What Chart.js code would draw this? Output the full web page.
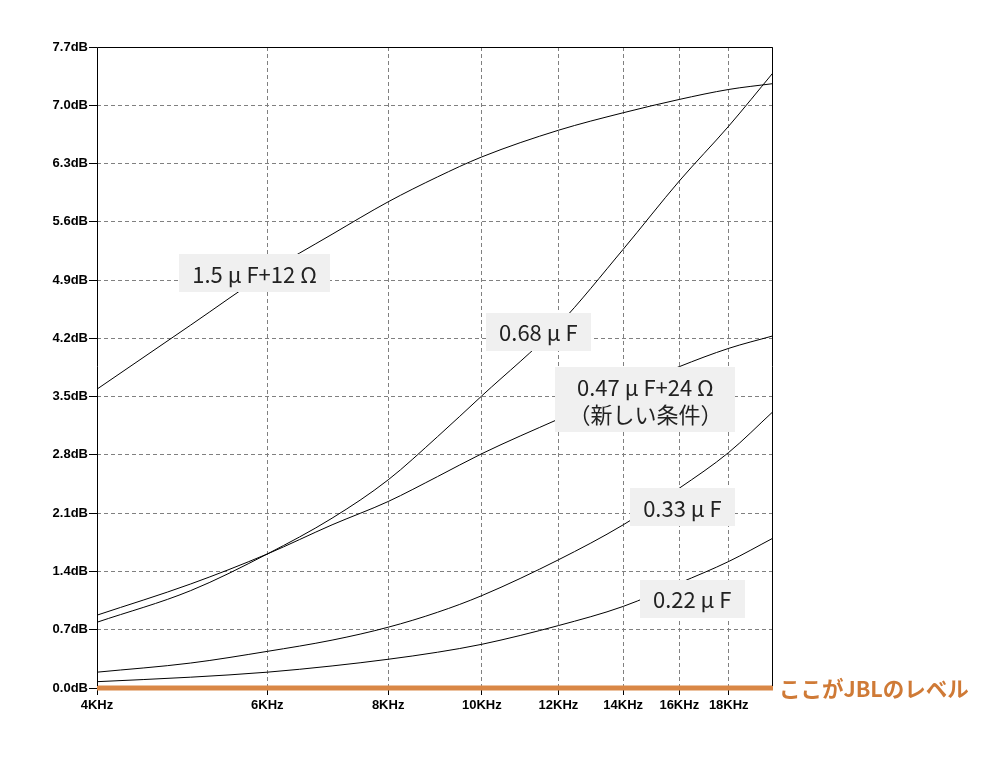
<!DOCTYPE html>
<html><head><meta charset="utf-8">
<script src="https://cdn.jsdelivr.net/npm/chart.js@4/dist/chart.umd.min.js"></script>
<style>html,body{margin:0;padding:0;background:#fff}#wrap{width:996px;height:758px;position:relative}</style>
</head><body><div id="wrap"><canvas id="c" width="996" height="758"></canvas></div>
<script>
// ---- data (frequency in kHz, level in dB) ----
const freqKHz   = [4, 5, 6, 7, 8, 9, 10, 12, 14, 16, 18, 20];
const c15uF12   = [3.59, 4.36, 4.99, 5.45, 5.84, 6.14, 6.38, 6.70, 6.91, 7.07, 7.19, 7.26];
const c068uF    = [0.79, 1.17, 1.61, 2.04, 2.50, 3.02, 3.51, 4.36, 5.27, 6.09, 6.75, 7.39];
const c047uF24  = [0.875, 1.25, 1.61, 1.96, 2.24, 2.54, 2.815, 3.23, 3.57, 3.86, 4.08, 4.23];
const c033uF    = [0.19, 0.30, 0.44, 0.575, 0.73, 0.91, 1.11, 1.54, 1.96, 2.40, 2.83, 3.32];
const c022uF    = [0.076, 0.13, 0.19, 0.265, 0.345, 0.43, 0.525, 0.75, 0.98, 1.26, 1.52, 1.80];
const jblLevel  = [0, 0];
const jblFreq   = [4, 20];
const xTickVals = [4, 6, 8, 10, 12, 14, 16, 18];
const yTickVals = [0, 0.7, 1.4, 2.1, 2.8, 3.5, 4.2, 4.9, 5.6, 6.3, 7.0, 7.7];
const seriesNames = ['1.5 μ F+12 Ω', '0.68 μ F', '0.47 μ F+24 Ω\n（新しい条件）', '0.33 μ F', '0.22 μ F'];
const labelFreq = [5.82, 11.44, 14.76, 16.12, 16.5];
const labelDb   = [4.98, 4.28, 3.46, 2.17, 1.07];
const jblText = 'ここがJBLのレベル';

const series = [c15uF12, c068uF, c047uF24, c033uF, c022uF];
const toPts = (xs, ys) => xs.map((f, i) => ({x: f, y: ys[i]}));

const datasets = series.map((s, i) => ({
  label: seriesNames[i],
  data: toPts(freqKHz, s),
  borderColor: '#000', borderWidth: 1, pointRadius: 0,
  cubicInterpolationMode: 'monotone', fill: false
}));
datasets.push({
  label: 'JBL', data: toPts(jblFreq, jblLevel),
  borderColor: '#d98746', borderWidth: 5, pointRadius: 0, clip: false, borderCapStyle: 'butt'
});

const overlay = {
  id: 'overlay',
  afterDatasetsDraw(chart) {
    const {ctx, chartArea: a, scales: {x, y}} = chart;
    ctx.save();
    ctx.setLineDash([]);
    ctx.strokeStyle = '#000'; ctx.lineWidth = 1;
    ctx.beginPath();
    ctx.moveTo(a.left + 0.5, a.bottom - 2);
    ctx.lineTo(a.left + 0.5, a.top + 0.5);
    ctx.lineTo(a.right - 0.5, a.top + 0.5);
    ctx.lineTo(a.right - 0.5, a.bottom - 2);
    ctx.stroke();
    // labels
    ctx.font = '22px "Noto Sans CJK JP"';
    ctx.textAlign = 'center'; ctx.textBaseline = 'middle';
    seriesNames.forEach((name, i) => {
      const lines = name.split('\n');
      const w = Math.max(...lines.map(t => ctx.measureText(t).width)) + 26;
      const lh = 27;
      const h = lines.length * lh + 11;
      const cx = x.getPixelForValue(labelFreq[i]);
      const cy = y.getPixelForValue(labelDb[i]);
      ctx.fillStyle = '#f0f0f0';
      ctx.fillRect(Math.round(cx - w / 2), Math.round(cy - h / 2), Math.round(w), h);
      ctx.fillStyle = '#222';
      lines.forEach((t, j) => ctx.fillText(t, cx, cy - (lines.length - 1) * lh / 2 + j * lh + 1));
    });
    // JBL text
    ctx.font = 'bold 21.5px "Noto Sans CJK JP"';
    ctx.textAlign = 'left';
    ctx.fillStyle = '#cf7a36';
    ctx.fillText(jblText, a.right + 6, y.getPixelForValue(0) + 1);
    ctx.restore();
  }
};

Chart.defaults.font.family = '"Liberation Sans", Arial, sans-serif';
new Chart(document.getElementById('c'), {
  type: 'line',
  data: {datasets},
  options: {
    responsive: false, animation: false, devicePixelRatio: 1,
    layout: {padding: {top: 47, right: 223, bottom: 0, left: 0}},
    plugins: {legend: {display: false}, tooltip: {enabled: false}},
    scales: {
      x: {
        type: 'logarithmic', min: 4, max: 20,
        afterBuildTicks: s => { s.ticks = xTickVals.map(v => ({value: v})); },
        afterFit: s => { s.height = 70; },
        ticks: {color: '#000', font: {size: 13, weight: 'bold'}, padding: 3, maxRotation: 0, autoSkip: false,
                callback: v => v + 'KHz'},
        grid: {color: '#808080', lineWidth: 1, tickColor: '#000', tickLength: 7, tickBorderDash: []},
        border: {display: false, dash: [4, 3]}
      },
      y: {
        type: 'linear', min: 0, max: 7.7,
        afterBuildTicks: s => { s.ticks = yTickVals.map(v => ({value: v})); },
        afterFit: s => { s.width = 97; },
        ticks: {color: '#000', font: {size: 13, weight: 'bold'}, padding: 1, autoSkip: false,
                callback: v => Number(v).toFixed(1) + 'dB'},
        grid: {color: '#808080', lineWidth: 1, tickColor: '#000', tickLength: 8, tickBorderDash: []},
        border: {display: false, dash: [4, 3]}
      }
    }
  },
  plugins: [overlay]
});
</script></body></html>
